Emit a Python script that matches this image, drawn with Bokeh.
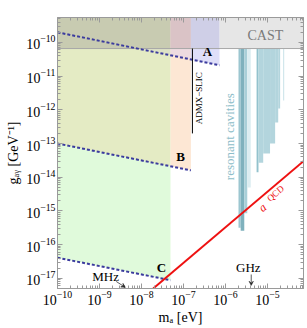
import numpy as np
from bokeh.plotting import figure
from bokeh.models import LogAxis, FixedTicker, Range1d, Arrow, VeeHead
from bokeh.core.properties import value
from bokeh.embed import file_html
from bokeh.resources import INLINE

# ---------------- data ----------------
x_lo, x_hi = 1e-10, 7.2e-5          # m_a [eV]
y_lo, y_hi = 5e-18, 5.5e-10         # g [GeV^-1]

x_ticks = [1e-10, 1e-9, 1e-8, 1e-7, 1e-6, 1e-5]
y_ticks = [1e-17, 1e-16, 1e-15, 1e-14, 1e-13, 1e-12, 1e-11, 1e-10]

# projected sensitivity lines (endpoints, log-log straight)
lineA_m = [1e-10, 7.2e-7]
lineA_g = [2.0e-10, 2.1e-11]
lineB_m = [1e-10, 1.5e-7]
lineB_g = [1.0e-13, 1.6e-14]
lineC_m = [1e-10, 4.9e-8]
lineC_g = [4.1e-17, 8.8e-18]

cast_g = 6.6e-11

qcd_m = [1.9e-8, 7.2e-5]
qcd_g = [5.0e-18, 3.0e-14]

admx_m = [1.63e-7, 1.63e-7]
admx_g = [6.6e-11, 2.0e-13]

# resonant cavity exclusions: left, right, lower edge
cav_left = [2.04e-6, 2.3e-6, 2.8e-6, 3.3e-6,
            5.5e-6, 6.1e-6, 7.9e-6, 1.15e-5, 1.52e-5, 1.8e-5, 2.35e-5]
cav_right = [2.3e-6, 2.8e-6, 3.3e-6, 4.0e-6,
             6.1e-6, 7.9e-6, 1.15e-5, 1.52e-5, 1.8e-5, 2.0e-5, 2.5e-5]
cav_bottom = [3.2e-16, 2.6e-16, 8.5e-16, 5e-15,
              1.4e-14, 2.7e-14, 5.1e-14, 1.0e-13, 4.2e-13, 1.1e-12, 1.9e-12]
cav_color = ["#9cc6d0", "#7fb1bd", "#a9cfd8", "#dcedf1",
             "#93c2cd", "#b3d5dd", "#b3d5dd", "#b3d5dd", "#b3d5dd", "#b3d5dd", "#cfe6eb"]

# frequency markers
mhz_arrow = [2.5e-9, 8.1e-18, 4.1e-9, 5.4e-18]
ghz_arrow = [4.1e-6, 1.3e-17, 4.1e-6, 6.2e-18]

# ---------------- helpers ----------------
def line_at(m, lm, lg):
    return 10 ** np.interp(np.log10(m), np.log10(lm), np.log10(lg))

def above(x0, x1, lm, lg):
    xs = [x0, x1, x1, x0]
    ys = [line_at(x0, lm, lg), line_at(x1, lm, lg), y_hi, y_hi]
    return xs, ys

xC, xB, xA = lineC_m[1], lineB_m[1], lineA_m[1]

SERIF = "Liberation Serif"
GRAY = "#9a9a9a"

p = figure(frame_width=246, frame_height=271, x_axis_type="log", y_axis_type="log",
           x_range=Range1d(x_lo, x_hi), y_range=Range1d(y_lo, y_hi),
           output_backend="svg", toolbar_location=None,
           min_border_left=57, min_border_right=4, min_border_top=17, min_border_bottom=36)
p.xgrid.visible = False
p.ygrid.visible = False
p.outline_line_color = GRAY
p.background_fill_color = "white"
p.border_fill_color = "white"

regions = [
    (above(x_lo, xC, lineC_m, lineC_g), "#e0fadb"),
    (above(x_lo, xC, lineB_m, lineB_g), "#e4ebc4"),
    (above(xC, xB, lineB_m, lineB_g), "#fde7d4"),
    (above(x_lo, xC, lineA_m, lineA_g), "#dde2c6"),
    (above(xC, xB, lineA_m, lineA_g), "#eedbe0"),
    (above(xB, xA, lineA_m, lineA_g), "#dfdff9"),
]
for (xs, ys), c in regions:
    p.patch(xs, ys, fill_color=c, line_color=None)

p.quad(left=cav_left, right=cav_right, bottom=cav_bottom, top=[cast_g] * len(cav_left),
       fill_color=cav_color, line_color=None)

cast_edges = [x_lo, xC, xB, xA, x_hi]
cast_cols = ["#c8cbb1", "#dac3c6", "#cfcfe7", "#e6e6e6"]
p.quad(left=cast_edges[:-1], right=cast_edges[1:], bottom=[cast_g] * 4, top=[y_hi] * 4,
       fill_color=cast_cols, line_color=None)
p.line([x_lo, x_hi], [cast_g, cast_g], line_color="#a8a8a8", line_width=1)

for lm, lg in [(lineA_m, lineA_g), (lineB_m, lineB_g), (lineC_m, lineC_g)]:
    p.line(lm, lg, line_color="#3b3b9e", line_width=2, line_dash="3 2")

p.line(admx_m, admx_g, line_color="black", line_width=1)
p.line(qcd_m, qcd_g, line_color="#ee1111", line_width=2)

def txt(x, y, s, size="12px", color="black", style="normal", angle=0, align="center", base="middle"):
    p.text(x=[x], y=[y], text=[s], text_font=value(SERIF), text_font_size=value(size),
           text_color=color, text_font_style=style, angle=angle,
           text_align=align, text_baseline=base)

txt(3.7e-7, 5.4e-11, "A", size="13px", style="bold")
txt(8.5e-8, 4.2e-14, "B", size="13px", style="bold")
txt(3.0e-8, 2.1e-17, "C", size="13px", style="bold")
txt(8.9e-6, 1.6e-10, "CAST", size="14px", color="#7a7a7a")
txt(2.4e-7, 2.2e-12, "ADMX−SLIC", size="9px", angle=np.pi / 2)
txt(1.26e-6, 1.6e-13, "resonant cavities", size="13px", color="#8dbdc9", angle=np.pi / 2)
txt(7.6e-6, 1.26e-15, "a", size="12px", color="#ee1111", style="italic", angle=0.70)
txt(1.55e-5, 3.3e-15, "QCD", size="9px", color="#ee1111", angle=0.70)
txt(1.4e-9, 1.15e-17, "MHz", size="13px")
txt(3.5e-6, 2.1e-17, "GHz", size="13px")

for a in (mhz_arrow, ghz_arrow):
    p.add_layout(Arrow(end=VeeHead(size=4, line_width=0.8, line_color="#333333"),
                       x_start=a[0], y_start=a[1], x_end=a[2], y_end=a[3],
                       line_width=0.8, line_color="#333333"))

minor = [k * 10.0 ** e for e in range(-19, -3) for k in range(2, 10)]

def style(ax, ticks, labels=True):
    ax.ticker = FixedTicker(ticks=ticks, minor_ticks=minor)
    ax.axis_line_color = GRAY
    ax.major_tick_line_color = GRAY
    ax.minor_tick_line_color = GRAY
    ax.major_tick_in = 5
    ax.major_tick_out = 0
    ax.minor_tick_in = 3
    ax.minor_tick_out = 0
    ax.major_label_text_font = SERIF
    ax.major_label_text_font_size = "14px"
    ax.major_label_text_color = "black"
    ax.major_label_standoff = 2
    ax.axis_label_text_font = SERIF
    ax.axis_label_text_font_size = "14px"
    ax.axis_label_text_font_style = "normal"
    ax.axis_label_text_color = "black"
    ax.axis_label_standoff = 2
    if not labels:
        ax.major_label_text_font_size = "1px"
        ax.major_label_text_alpha = 0
        ax.major_label_standoff = 0

style(p.xaxis[0], x_ticks)
style(p.yaxis[0], y_ticks)
p.xaxis[0].axis_label = "mₐ [eV]"
p.yaxis[0].axis_label = "gₐᵧ [GeV⁻¹]"

top = LogAxis()
style(top, x_ticks, labels=False)
p.add_layout(top, "above")
right = LogAxis()
style(right, y_ticks, labels=False)
p.add_layout(right, "right")

open("out.html", "w").write(file_html(p, INLINE))
